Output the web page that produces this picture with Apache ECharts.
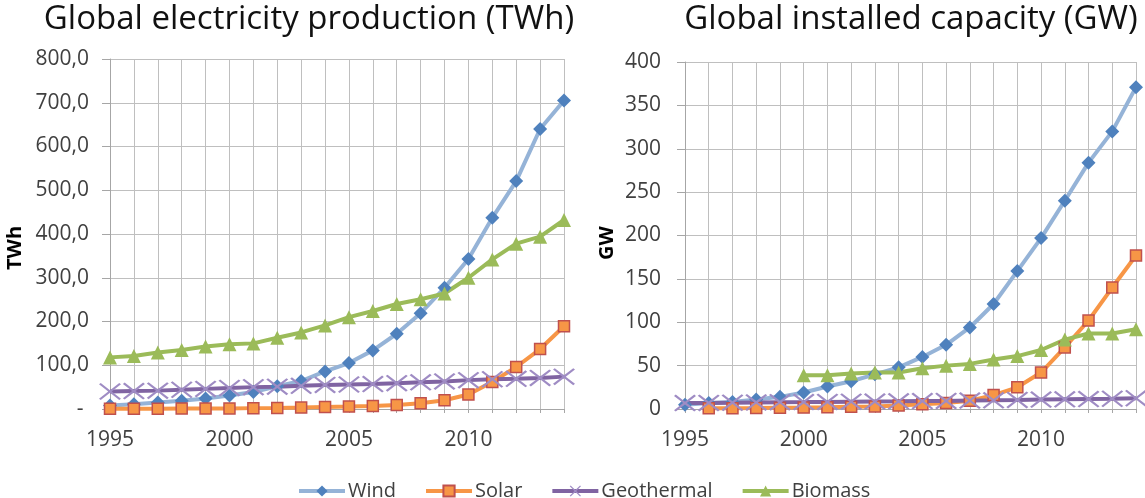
<!DOCTYPE html>
<html><head><meta charset="utf-8">
<script src="https://cdn.jsdelivr.net/npm/echarts@6/dist/echarts.min.js"></script>
<style>html,body{margin:0;padding:0;background:#fff}#c{width:1145px;height:498px}</style>
</head><body><div id="c"></div>
<script>
var years = ['1995','1996','1997','1998','1999','2000','2001','2002','2003','2004','2005','2006','2007','2008','2009','2010','2011','2012','2013','2014'];
var seriesNames = ['Wind','Solar','Geothermal','Biomass'];
// Global electricity production (TWh)
var windTWh = [8,11,15,19,24,31,39,52,64,86,105,134,172,219,277,343,437,521,640,705];
var solarTWh = [0.5,0.6,0.7,0.9,1.1,1.3,2,2.5,3.3,4.5,5.5,7,9,13,20,33,62,96,137,189];
var geoTWh = [40,41,42,44,46,48,50,51,53,55,56,57,59,61,63,66,68,69,71,74];
var bioTWh = [118,121,129,135,143,148,150,163,175,191,210,224,240,251,264,300,342,378,394,432];
// Global installed capacity (GW)
var windGW = [5,7,8,11,14,19,26,32,40,48,60,74,94,121,159,197,240,284,320,371];
var solarGW = [null,0.8,1,1.2,1.5,1.6,2,2.5,3,4,5.5,7,9.5,16,25,42,71,102,140,177];
var geoGW = [6.8,7.0,7.3,7.6,7.9,8.0,8.2,8.4,8.6,8.8,9.1,9.3,9.7,10.0,10.4,10.9,11.2,11.5,11.8,12.4];
var bioGW = [null,null,null,null,null,39,39,41,42,42,47,50,52,57,61,68,80,87,87,92];

var FONT = '"Open Sans", sans-serif';
var GRID = '#BFBFBF', AXIS = '#A6A6A6', TXT = '#404040';
var xPath = 'path://M0,0.8 L0.8,0 L5,4.2 L9.2,0 L10,0.8 L5.8,5 L10,9.2 L9.2,10 L5,5.8 L0.8,10 L0,9.2 L4.2,5 Z';

var styles = {
  Wind: {line:'#95B3D7', symbol:'diamond', size:14, item:{color:'#4F81BD'}},
  Solar: {line:'#F79646', symbol:'rect', size:11, item:{color:'#F79646', borderColor:'#C0504D', borderWidth:1.5}},
  Geothermal: {line:'#8064A2', symbol:xPath, size:[22,17], item:{color:'#9F8CC4'}},
  Biomass: {line:'#9BBB59', symbol:'triangle', size:14, item:{color:'#9BBB59'}}
};

function mkSeries(name, data, idx) {
  var s = styles[name];
  return {
    name: name, type: 'line', xAxisIndex: idx, yAxisIndex: idx, data: data,
    symbol: s.symbol, symbolSize: s.size, showAllSymbol: true,
    lineStyle: {color: s.line, width: 4}, itemStyle: s.item,
    emphasis: {disabled: true}, animation: false
  };
}

function xAx(idx) {
  return {
    type: 'category', gridIndex: idx, data: years, boundaryGap: false,
    axisLine: {lineStyle: {color: AXIS, width: 1}},
    axisTick: {show: true, interval: 0, length: 4, lineStyle: {color: AXIS}},
    axisLabel: {interval: 4, color: TXT, fontFamily: FONT, fontSize: 21, margin: 21},
    splitLine: {show: true, interval: 0, lineStyle: {color: GRID, width: 1}}
  };
}
function yAx(idx, max, interval, fmt, margin) {
  return {
    type: 'value', gridIndex: idx, min: 0, max: max, interval: interval,
    axisLine: {show: true, lineStyle: {color: AXIS, width: 1}},
    axisTick: {show: true, length: 8, lineStyle: {color: AXIS}},
    axisLabel: {color: TXT, fontFamily: FONT, fontSize: 21, margin: margin, formatter: fmt},
    splitLine: {show: true, lineStyle: {color: GRID, width: 1}}
  };
}

var chart = echarts.init(document.getElementById('c'), null, {renderer: 'canvas'});
chart.setOption({
  backgroundColor: '#fff',
  animation: false,
  title: [
    {text: 'Global electricity production (TWh)', left: 304, textAlign: 'center', top: -2,
     textStyle: {fontFamily: FONT, fontSize: 33, fontWeight: 'normal', color: '#111'}},
    {text: 'Global installed capacity (GW)', left: 906, textAlign: 'center', top: -2,
     textStyle: {fontFamily: FONT, fontSize: 33, fontWeight: 'normal', color: '#111'}}
  ],
  legend: {
    data: seriesNames, top: 476, left: 292, itemWidth: 46, itemHeight: 14, itemGap: 28,
    lineStyle: {width: 4},
    textStyle: {fontFamily: FONT, fontSize: 20, color: TXT, padding: [0, 0, 0, -2]}
  },
  grid: [
    {left: 110, top: 59, width: 454, height: 350, containLabel: false},
    {left: 685, top: 62, width: 451, height: 347, containLabel: false}
  ],
  xAxis: [xAx(0), xAx(1)],
  yAxis: [
    yAx(0, 800, 100, function (v) { return v === 0 ? '- ' : v.toFixed(1).replace('.', ','); }, 21),
    yAx(1, 400, 50, function (v) { return String(v); }, 24)
  ],
  graphic: [
    {type: 'text', x: 15, y: 248, rotation: Math.PI / 2,
     style: {text: 'TWh', font: 'bold 20px ' + FONT, fill: '#000', align: 'center', verticalAlign: 'middle'}},
    {type: 'text', x: 607, y: 243, rotation: Math.PI / 2,
     style: {text: 'GW', font: 'bold 20px ' + FONT, fill: '#000', align: 'center', verticalAlign: 'middle'}}
  ],
  series: [
    mkSeries('Wind', windTWh, 0), mkSeries('Solar', solarTWh, 0),
    mkSeries('Geothermal', geoTWh, 0), mkSeries('Biomass', bioTWh, 0),
    mkSeries('Wind', windGW, 1), mkSeries('Solar', solarGW, 1),
    mkSeries('Geothermal', geoGW, 1), mkSeries('Biomass', bioGW, 1)
  ]
});
</script></body></html>
